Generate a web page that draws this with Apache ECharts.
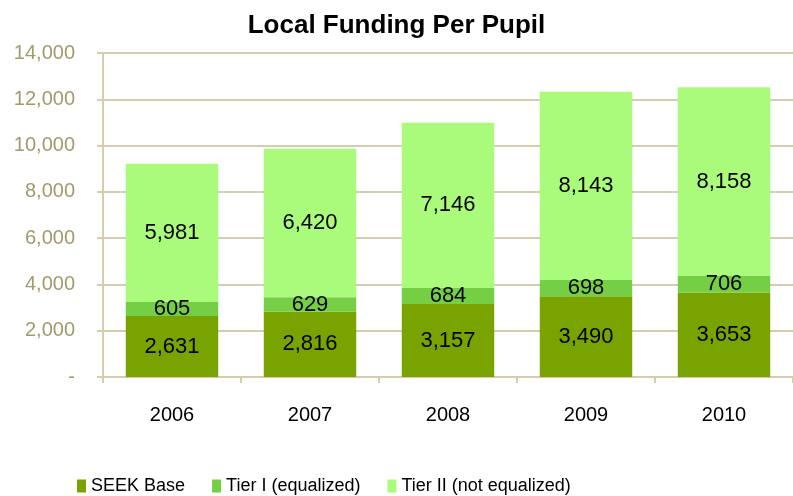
<!DOCTYPE html>
<html>
<head>
<meta charset="utf-8">
<script src="https://cdn.jsdelivr.net/npm/echarts@6/dist/echarts.min.js"></script>
<style>
  html, body { margin: 0; padding: 0; background: #fff; }
  #chart { width: 793px; height: 496px; }
</style>
</head>
<body>
<div id="chart"></div>
<script>
const years = ['2006', '2007', '2008', '2009', '2010'];
const seekBase = [2631, 2816, 3157, 3490, 3653];
const tierOne = [605, 629, 684, 698, 706];
const tierTwo = [5981, 6420, 7146, 8143, 8158];

const fmt = v => v.toLocaleString('en-US');
const lineColor = '#d5cdad';
const labelColor = '#a39a6b';

let myChart = echarts.init(document.getElementById('chart'));

function seg(name, data, color) {
  return {
    name: name,
    type: 'bar',
    stack: 'Total',
    data: data,
    barCategoryGap: '33%',
    itemStyle: { color: color },
    label: {
      show: true,
      position: 'inside',
      color: '#000',
      fontFamily: 'Liberation Sans',
      fontSize: 22,
      formatter: p => fmt(p.value)
    }
  };
}

myChart.setOption({
  animation: false,
  title: {
    text: 'Local Funding Per Pupil',
    left: 'center',
    top: 8,
    textStyle: { fontFamily: 'Liberation Sans', fontWeight: 'bold', fontSize: 26, color: '#000' }
  },
  grid: { left: 103, right: 0, top: 53, bottom: 119 },
  xAxis: {
    type: 'category',
    data: years,
    axisLine: { lineStyle: { color: lineColor, width: 2 } },
    axisTick: { show: true, length: 6, lineStyle: { color: lineColor, width: 2 } },
    axisLabel: { color: '#000', fontFamily: 'Liberation Sans', fontSize: 20, margin: 28 }
  },
  yAxis: {
    type: 'value',
    min: 0,
    max: 14000,
    interval: 2000,
    axisLine: { show: true, lineStyle: { color: lineColor, width: 2 } },
    axisTick: { show: true, length: 6, lineStyle: { color: lineColor, width: 2 } },
    splitLine: { lineStyle: { color: lineColor, width: 2 } },
    axisLabel: {
      color: labelColor,
      fontFamily: 'Liberation Sans',
      fontSize: 20,
      margin: 28,
      formatter: v => v === 0 ? '-' : fmt(v)
    }
  },
  legend: {
    top: 472,
    left: 72,
    itemWidth: 9,
    itemHeight: 13,
    itemGap: 27,
    icon: 'rect',
    textStyle: { color: '#000', fontFamily: 'Liberation Sans', fontSize: 18 }
  },
  series: [
    seg('SEEK Base', seekBase, '#79a300'),
    seg('Tier I (equalized)', tierOne, '#75cf44'),
    seg('Tier II (not equalized)', tierTwo, '#aafb7b')
  ]
});
</script>
</body>
</html>
